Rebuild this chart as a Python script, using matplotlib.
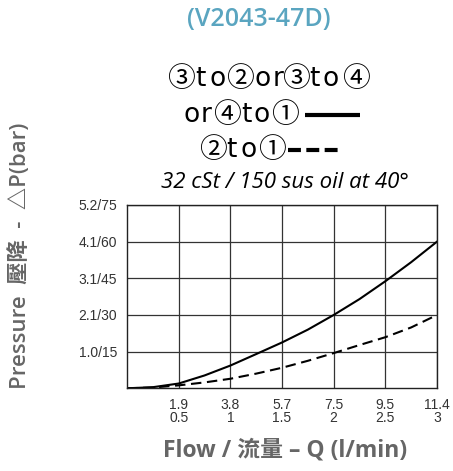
import matplotlib
matplotlib.use("Agg")
import matplotlib.pyplot as plt
from matplotlib.lines import Line2D

# flow in gpm, pressure drop in psi
flow_gpm = [0, 0.25, 0.5, 0.75, 1.0, 1.25, 1.5, 1.75, 2.0, 2.25, 2.5, 2.75, 3.0]
dp_solid = [0, 0.45, 1.95, 5.25, 9.3, 14.0, 18.75, 24.0, 30.0, 36.5, 43.8, 51.6, 60.0]
dp_dashed = [0, 0.3, 1.2, 2.4, 3.9, 6.0, 8.4, 11.25, 14.4, 17.7, 20.9, 24.9, 30.0]

x_ticks = [0.5, 1.0, 1.5, 2.0, 2.5, 3.0]
x_labels = ["1.9\n0.5", "3.8\n1", "5.7\n1.5", "7.5\n2", "9.5\n2.5", "11.4\n3"]
y_ticks = [15, 30, 45, 60, 75]
y_labels = ["1.0/15", "2.1/30", "3.1/45", "4.1/60", "5.2/75"]

# legend lines, split into glyphs so the wide spacing of the original can be kept
legend_rows = [
    [("③", 181), ("t", 200), ("o", 218), ("②", 240), ("o", 263), ("r", 278),
     ("③", 296), ("t", 314), ("o", 331), ("④", 356)],
    [("o", 192), ("r", 206), ("④", 227), ("t", 246), ("o", 262), ("①", 285)],
    [("②", 213), ("t", 231), ("o", 249), ("①", 272)],
]
legend_baselines = [86, 122, 157]

W, H = 453, 471
CJK = ["Noto Sans CJK TC", "DejaVu Sans"]
LABEL_FONT = ["Open Sans", "Noto Sans CJK TC", "DejaVu Sans"]
GRAY = "#666666"


def fx(px):
    return px / W


def fy(py):
    return 1 - py / H


fig = plt.figure(figsize=(W / 100, H / 100), dpi=100)
ax = fig.add_axes([0.2804, 0.1756, 0.6843, 0.3892])

ax.plot(flow_gpm, dp_solid, color="black", lw=1.5)
ax.plot(flow_gpm, dp_dashed, color="black", lw=1.5, dashes=(5, 2.7))

ax.set_xlim(0, 3)
ax.set_ylim(0, 75)
ax.set_xticks(x_ticks)
ax.set_xticklabels(x_labels, fontsize=10, color="#333333",
                   family="Liberation Sans", linespacing=0.95)
ax.set_yticks(y_ticks)
ax.set_yticklabels(y_labels, fontsize=10, color="#333333", family="Liberation Sans")
ax.tick_params(length=0, pad=7)
ax.grid(True, color="#333333", lw=0.9)
for s in ax.spines.values():
    s.set_color("#222222")
    s.set_linewidth(1.0)

fig.text(fx(259), fy(20), "(V2043-47D)", ha="center", va="center",
         fontsize=18, color="#5aa5c0", family="Open Sans", weight="semibold")

for row, base in zip(legend_rows, legend_baselines):
    for ch, x in row:
        if ch in "tor":
            fig.text(fx(x), fy(base), ch, ha="center", va="baseline",
                     fontsize=19, family="DejaVu Sans")
        else:
            fig.text(fx(x), fy(base + 1), ch, ha="center", va="baseline",
                     fontsize=20, family=CJK)

fig.add_artist(Line2D([fx(305), fx(360)], [fy(115), fy(115)], color="black",
                      lw=3, solid_capstyle="butt", transform=fig.transFigure))
fig.add_artist(Line2D([fx(288), fx(342)], [fy(150), fy(150)], color="black",
                      lw=3, dashes=(3.1, 1.3), transform=fig.transFigure))

fig.text(fx(285), fy(188), "32 cSt / 150 sus oil at 40°", ha="center", va="baseline",
         fontsize=16, family="Open Sans", style="italic")

fig.text(fx(285), fy(457), "Flow / 流量 – Q (l/min)", ha="center", va="baseline",
         fontsize=16.5, color=GRAY, weight="bold", family=LABEL_FONT)
fig.text(fx(20), fy(256), "Pressure  壓降  -  △P(bar)", ha="center", va="center",
         rotation=90, fontsize=16, color=GRAY, weight="semibold", family=LABEL_FONT)

fig.savefig("out.png", dpi=100)
